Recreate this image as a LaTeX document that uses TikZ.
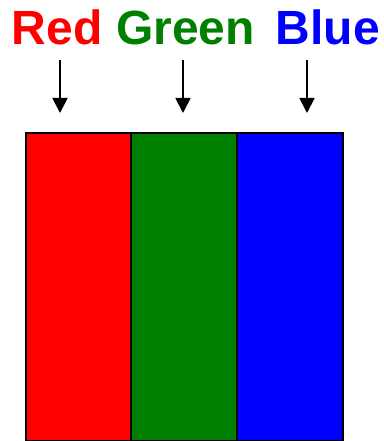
\documentclass[tikz,border=0pt]{standalone}
\usepackage{fontspec}
\setmainfont{Liberation Sans}
\usetikzlibrary{arrows.meta, positioning}
\definecolor{cRed}{HTML}{FF0000}
\definecolor{cGreen}{HTML}{008000}
\definecolor{cBlue}{HTML}{0000FF}
\tikzset{
  chanlabel/.style={anchor=base, inner sep=0pt, font=\bfseries\fontsize{48}{50}\selectfont},
  stripe/.style={draw=black, line width=2pt, minimum height=308pt, inner sep=0pt, anchor=north west},
  downarrow/.style={line width=1.8pt, -{Triangle[width=15pt,length=15pt]}}
}
\begin{document}
\begin{tikzpicture}[x=1pt, y=-1pt]
    \useasboundingbox (0,0) rectangle (383,441);
    % labels
    \foreach \n/\c/\t/\lx in {R/cRed/Red/57, G/cGreen/Green/185.5, B/cBlue/Blue/328} {
      \node[chanlabel, text=\c] (lbl\n) at (\lx,45) {\t};
    }
    % stripes
    \foreach \n/\c/\sx/\w in {R/cRed/25/105, G/cGreen/130/106, B/cBlue/236/106} {
      \node[stripe, fill=\c, minimum width=\w pt] (strip\n) at (\sx,132) {};
    }
    % arrows
    \foreach \n/\ax in {R/60, G/183, B/307} {
      \coordinate (top\n) at (\ax,60);
      \coordinate (tip\n) at (\ax,113);
      \draw[downarrow] (top\n) -- (tip\n);
    }
  \end{tikzpicture}
\end{document}
